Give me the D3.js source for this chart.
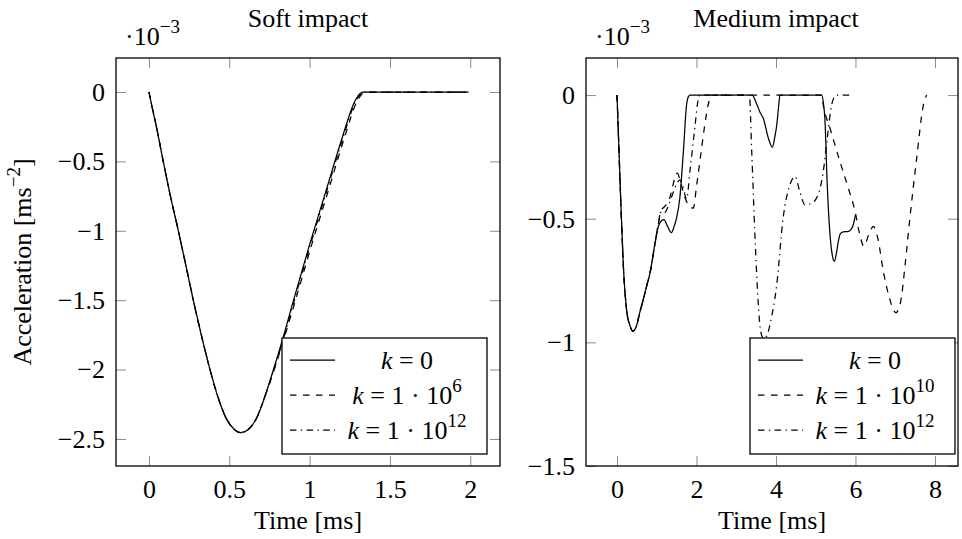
<!DOCTYPE html>
<html><head><meta charset="utf-8">
<script src="https://cdn.jsdelivr.net/npm/d3@7"></script>
<style>body{margin:0;background:#fff}svg{display:block}svg text{font-family:"Liberation Serif","DejaVu Serif",serif !important;fill:#000}</style>
</head><body><svg id="c" width="962" height="539"></svg>
<script>
// ---------- DATA ----------
const softTitle = "Soft impact";
const mediumTitle = "Medium impact";
const softXTicks = [0, 0.5, 1, 1.5, 2];
const softYTicks = [0, -0.5, -1, -1.5, -2, -2.5];
const mediumXTicks = [0, 2, 4, 6, 8];
const mediumYTicks = [0, -0.5, -1, -1.5];

// Soft impact series (time in ms, acceleration in 1e-3)
const softT0  = [0,0.02,0.05,0.089,0.13,0.183,0.23,0.276,0.33,0.38,0.43,0.48,0.53,0.571,0.62,0.67,0.72,0.775,0.84,0.9,1.0,1.1,1.2,1.28,1.31,1.33,1.4,1.6,1.8,1.99];
const softA0  = [0,-0.11,-0.27,-0.5,-0.73,-1.0,-1.25,-1.5,-1.77,-2.0,-2.2,-2.35,-2.43,-2.455,-2.43,-2.35,-2.2,-2.0,-1.75,-1.5,-1.1,-0.72,-0.34,-0.07,-0.015,0,0,0,0,0];
const softT6  = [0,0.02,0.05,0.089,0.13,0.183,0.23,0.276,0.33,0.38,0.43,0.48,0.53,0.571,0.62,0.67,0.72,0.780,0.848,0.912,1.013,1.114,1.214,1.294,1.326,1.35,1.4,1.6,1.8,1.99];
const softA6  = [0,-0.11,-0.27,-0.5,-0.73,-1.0,-1.25,-1.5,-1.77,-2.0,-2.2,-2.35,-2.43,-2.455,-2.43,-2.35,-2.2,-2.0,-1.75,-1.5,-1.1,-0.72,-0.34,-0.07,-0.015,0,0,0,0,0];
const softT12 = [0,0.02,0.05,0.089,0.13,0.183,0.23,0.276,0.33,0.38,0.43,0.48,0.53,0.571,0.62,0.67,0.72,0.778,0.844,0.905,1.005,1.105,1.205,1.286,1.317,1.338,1.4,1.6,1.8,1.99];
const softA12 = [0,-0.11,-0.27,-0.5,-0.73,-1.0,-1.25,-1.5,-1.77,-2.0,-2.2,-2.35,-2.43,-2.455,-2.43,-2.35,-2.2,-2.0,-1.75,-1.5,-1.1,-0.72,-0.34,-0.07,-0.015,0,0,0,0,0];

// Medium impact series
const medT0  = [0,0.04,0.093,0.16,0.24,0.33,0.40,0.49,0.58,0.66,0.75,0.83,0.956,1.04,1.12,1.18,1.27,1.37,1.44,1.50,1.58,1.67,1.75,1.80,1.84,3.40,3.50,3.60,3.68,3.81,3.91,3.97,4.02,4.07,4.10,5.15,5.20,5.23,5.29,5.36,5.42,5.47,5.52,5.57,5.62,5.69,5.82,5.93,6.0];
const medA0  = [0,-0.18,-0.42,-0.69,-0.867,-0.934,-0.955,-0.934,-0.875,-0.827,-0.77,-0.72,-0.60,-0.531,-0.508,-0.504,-0.53,-0.556,-0.53,-0.497,-0.417,-0.229,-0.04,-0.005,0,0,-0.03,-0.07,-0.094,-0.175,-0.211,-0.17,-0.121,-0.04,0,0,-0.04,-0.094,-0.363,-0.565,-0.65,-0.672,-0.64,-0.591,-0.56,-0.553,-0.551,-0.531,-0.484];
const medT10 = [0,0.04,0.093,0.16,0.24,0.33,0.40,0.49,0.58,0.66,0.75,0.83,0.956,1.04,1.1,1.2,1.3,1.4,1.47,1.52,1.58,1.7,1.8,1.92,2.0,2.1,2.2,2.3,2.37,5.15,5.19,5.36,5.61,5.82,5.99,6.11,6.21,6.35,6.45,6.57,6.70,6.83,7.02,7.14,7.25,7.37,7.54,7.71,7.79];
const medA10 = [0,-0.18,-0.42,-0.69,-0.867,-0.934,-0.955,-0.934,-0.875,-0.827,-0.77,-0.72,-0.60,-0.52,-0.47,-0.45,-0.43,-0.37,-0.325,-0.316,-0.34,-0.41,-0.445,-0.457,-0.37,-0.25,-0.13,-0.035,0,0,-0.04,-0.134,-0.269,-0.376,-0.47,-0.565,-0.611,-0.558,-0.531,-0.585,-0.712,-0.806,-0.88,-0.833,-0.685,-0.497,-0.255,-0.04,0];
const medT12 = [0,0.04,0.093,0.16,0.24,0.33,0.40,0.49,0.58,0.66,0.75,0.83,0.956,1.04,1.12,1.2,1.3,1.4,1.5,1.58,1.66,1.75,1.84,1.96,2.04,2.09,3.33,3.39,3.47,3.55,3.62,3.69,3.78,3.86,4.02,4.18,4.35,4.48,4.60,4.73,4.90,5.06,5.19,5.29,5.40,5.48,5.53,5.95];
const medA12 = [0,-0.18,-0.42,-0.69,-0.867,-0.934,-0.955,-0.934,-0.875,-0.827,-0.77,-0.72,-0.60,-0.52,-0.47,-0.475,-0.445,-0.40,-0.36,-0.343,-0.37,-0.42,-0.30,-0.13,-0.02,0,0,-0.228,-0.565,-0.833,-0.96,-0.985,-0.97,-0.92,-0.766,-0.497,-0.363,-0.329,-0.39,-0.444,-0.437,-0.403,-0.309,-0.175,-0.04,-0.005,0,0];

const softLegend = [["0", null], ["1 · 10", "6"], ["1 · 10", "12"]];
const mediumLegend = [["0", null], ["1 · 10", "10"], ["1 · 10", "12"]];

// ---------- DRAWING ----------
const svg = d3.select("#c");
const FS = 26;
const SUP = 19;
const FONT = '"Liberation Serif", serif';
const styles = [null, "6.5,6.5", "6.5,4.4,1.3,4.4"];

function panel(cfg) {
  const {x0, x1, y0, y1, xDom, yDom, xTicks, yTicks, series, legend, title, xFmt, yFmt, legendBox, showYLabel, id} = cfg;
  const x = d3.scaleLinear().domain(xDom).range([x0, x1]);
  const y = d3.scaleLinear().domain(yDom).range([y1, y0]);
  const g = svg.append("g");
  g.append("clipPath").attr("id", id).append("rect")
    .attr("x", x0).attr("y", y0).attr("width", x1 - x0).attr("height", y1 - y0);

  const tl = 10;
  const axB = g.append("g").attr("transform", `translate(0,${y1})`)
    .call(d3.axisBottom(x).tickValues(xTicks).tickSizeInner(-tl).tickSizeOuter(0).tickPadding(12).tickFormat(xFmt));
  const axT = g.append("g").attr("transform", `translate(0,${y0})`)
    .call(d3.axisTop(x).tickValues(xTicks).tickSizeInner(-tl).tickSizeOuter(0).tickFormat(""));
  const axL = g.append("g").attr("transform", `translate(${x0},0)`)
    .call(d3.axisLeft(y).tickValues(yTicks).tickSizeInner(-tl).tickSizeOuter(0).tickPadding(11).tickFormat(yFmt));
  const axR = g.append("g").attr("transform", `translate(${x1},0)`)
    .call(d3.axisRight(y).tickValues(yTicks).tickSizeInner(-tl).tickSizeOuter(0).tickFormat(""));
  [axB, axT, axL, axR].forEach(a => {
    a.attr("font-family", null).attr("font-size", null);
    a.select(".domain").remove();
    a.selectAll(".tick line").attr("stroke", "#8a8a8a").attr("stroke-width", 1);
    a.selectAll("text").attr("font-size", FS).style("font-family", FONT).attr("fill", "#000");
  });
  axB.selectAll("text").attr("dy", "0.75em");

  const line = d3.line().x(d => x(d[0])).y(d => y(d[1])).curve(d3.curveMonotoneX);
  const cg = g.append("g").attr("clip-path", `url(#${id})`);
  series.forEach((s, i) => {
    const pts = s.t.map((t, j) => [t, s.a[j]]);
    cg.append("path").attr("d", line(pts)).attr("fill", "none").attr("stroke", "#000")
      .attr("stroke-width", 1.25).attr("stroke-dasharray", styles[i]).attr("stroke-linejoin", "round");
  });

  g.append("rect").attr("x", x0).attr("y", y0).attr("width", x1 - x0).attr("height", y1 - y0)
    .attr("fill", "none").attr("stroke", "#000").attr("stroke-width", 1.3);

  const T = (sel) => sel.style("font-family", FONT);

  T(g.append("text")).attr("x", (x0 + x1) / 2 + cfg.titleDx).attr("y", 27).attr("text-anchor", "middle")
    .attr("font-size", FS).text(title);
  const sf = T(g.append("text")).attr("x", x0 + 9).attr("y", 45).attr("font-size", FS);
  sf.append("tspan").text("·10");
  sf.append("tspan").attr("dy", -12).attr("font-size", SUP).text("−3");

  T(g.append("text")).attr("x", (x0 + x1) / 2).attr("y", 529).attr("text-anchor", "middle")
    .attr("font-size", FS).text("Time [ms]");

  if (showYLabel) {
    const yl = T(g.append("text")).attr("transform", `translate(31,${(y0 + y1) / 2}) rotate(-90)`)
      .attr("text-anchor", "middle").attr("font-size", FS);
    yl.append("tspan").text("Acceleration [ms");
    yl.append("tspan").attr("dy", -11).attr("font-size", SUP).text("−2");
    yl.append("tspan").attr("dy", 11).text("]");
  }

  const [lx, ly, lw, lh] = legendBox;
  const lg = g.append("g");
  lg.append("rect").attr("x", lx).attr("y", ly).attr("width", lw).attr("height", lh)
    .attr("fill", "#fff").attr("stroke", "#000").attr("stroke-width", 1.3);
  legend.forEach((L, i) => {
    const cy = ly + 22 + i * 35;
    lg.append("line").attr("x1", lx + 8).attr("x2", lx + 53).attr("y1", cy).attr("y2", cy)
      .attr("stroke", "#000").attr("stroke-width", 1.25).attr("stroke-dasharray", styles[i]);
    const t = T(lg.append("text")).attr("x", lx + 125).attr("y", cy + 9).attr("text-anchor", "middle").attr("font-size", FS);
    t.append("tspan").attr("font-style", "italic").text("k");
    t.append("tspan").text(" = " + L[0]);
    if (L[1]) t.append("tspan").attr("dy", -12).attr("font-size", SUP).text(L[1]);
  });
}

const fmtMinus = d => (d < 0 ? "−" : "") + Math.abs(d);

panel({
  id: "clipSoft", x0: 116, x1: 500, y0: 58, y1: 466,
  xDom: [-0.205, 2.185], yDom: [-2.695, 0.245],
  xTicks: softXTicks, yTicks: softYTicks, xFmt: fmtMinus, yFmt: fmtMinus,
  series: [{t: softT0, a: softA0}, {t: softT6, a: softA6}, {t: softT12, a: softA12}],
  legend: softLegend, title: softTitle, titleDx: 0,
  legendBox: [282, 338, 205, 116], showYLabel: true
});
panel({
  id: "clipMed", x0: 586, x1: 958, y0: 58, y1: 466,
  xDom: [-0.78, 8.58], yDom: [-1.5, 0.15],
  xTicks: mediumXTicks, yTicks: mediumYTicks, xFmt: fmtMinus, yFmt: fmtMinus,
  series: [{t: medT0, a: medA0}, {t: medT10, a: medA10}, {t: medT12, a: medA12}],
  legend: mediumLegend, title: mediumTitle, titleDx: 4,
  legendBox: [750, 338, 205, 116], showYLabel: false
});
</script></body></html>
